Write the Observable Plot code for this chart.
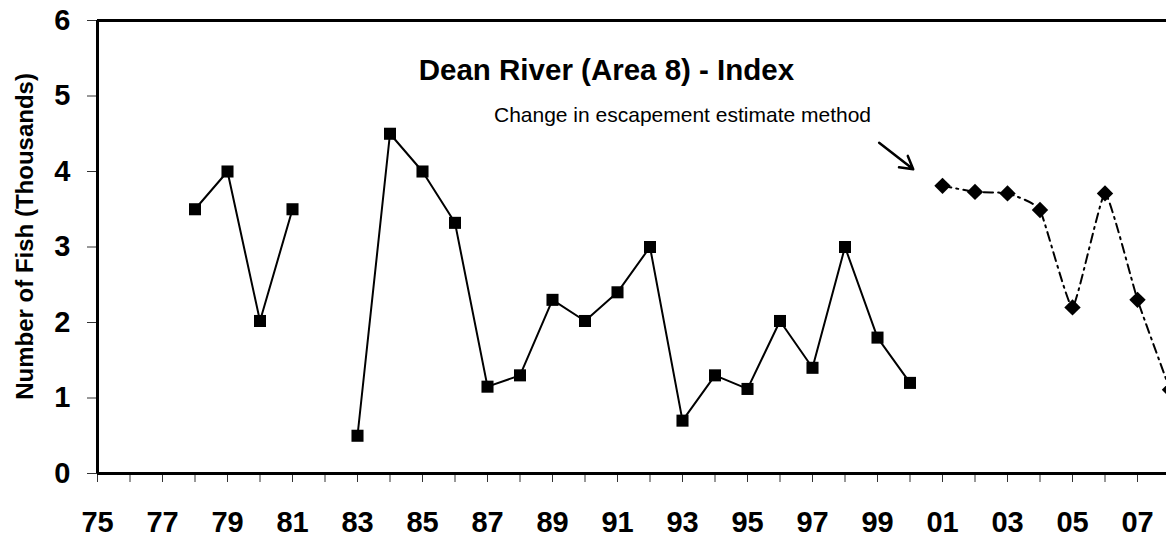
<!DOCTYPE html>
<html>
<head>
<meta charset="utf-8">
<script src="https://cdn.jsdelivr.net/npm/d3@7"></script>
<script src="https://cdn.jsdelivr.net/npm/@observablehq/plot@0.6"></script>
<style>
  html, body { margin: 0; padding: 0; background: #fff; }
  #chart svg { display: block; }
</style>
</head>
<body>
<div id="chart"></div>
<script>
// Index counts (thousands), solid line with squares (1982 missing)
const years1 = [1978, 1979, 1980, 1981, 1982, 1983, 1984, 1985, 1986, 1987, 1988, 1989, 1990, 1991, 1992, 1993, 1994, 1995, 1996, 1997, 1998, 1999, 2000];
const values1 = [3.5, 4.0, 2.02, 3.5, null, 0.5, 4.5, 4.0, 3.32, 1.15, 1.3, 2.3, 2.02, 2.4, 3.0, 0.7, 1.3, 1.12, 2.02, 1.4, 3.0, 1.8, 1.2];
// After change in escapement estimate method, dash-dot line with diamonds
const years2 = [2001, 2002, 2003, 2004, 2005, 2006, 2007, 2008];
const values2 = [3.81, 3.73, 3.71, 3.49, 2.2, 3.71, 2.3, 1.11];
const xTicks = d3.range(1975, 2009);
const yTicks = [0, 1, 2, 3, 4, 5, 6];
const titleText = "Dean River (Area 8) - Index";
const noteText = "Change in escapement estimate method";
const yLabel = "Number of Fish (Thousands)";

const s1 = years1.map((x, i) => ({x, y: values1[i]}));
const s2 = years2.map((x, i) => ({x, y: values2[i]}));

const font = "Arial, 'Liberation Sans', Helvetica, sans-serif";

const chart = Plot.plot({
  width: 1166,
  height: 537,
  marginLeft: 97,
  marginRight: -3.5,
  marginTop: 20,
  marginBottom: 64,
  style: {fontFamily: font, background: "#fff", overflow: "hidden"},
  x: {domain: [1975, 2008]},
  y: {domain: [0, 6]},
  marks: [
    Plot.axisY({
      ticks: yTicks, tickSize: 10, tickPadding: 17, stroke: "#333",
      tickFormat: d => String(d),
      fontSize: 29, fontWeight: "bold", fill: "#000",
      label: null
    }),
    Plot.axisX({
      ticks: xTicks, tickSize: 9, tickPadding: 29, stroke: "#333",
      tickFormat: d => (d % 2 === 1 ? String(d % 100).padStart(2, "0") : ""),
      fontSize: 29, fontWeight: "bold", fill: "#000",
      label: null
    }),
    Plot.text([yLabel], {
      x: 1975, y: 3.14, dx: -72, rotate: -90, textAnchor: "middle",
      fontSize: 24, fontWeight: "bold", fill: "#000"
    }),
    Plot.ruleY([0, 6], {stroke: "#000", strokeWidth: 3}),
    Plot.ruleX([1975], {stroke: "#000", strokeWidth: 3}),
    Plot.line(s1, {x: "x", y: "y", stroke: "#000", strokeWidth: 2}),
    Plot.dot(s1, {x: "x", y: "y", symbol: "square", r: 6.8, fill: "#000", stroke: "none"}),
    Plot.line(s2, {x: "x", y: "y", stroke: "#000", strokeWidth: 2, strokeDasharray: "9,5,2,5", curve: "cardinal", tension: 0.6}),
    Plot.dot(s2, {x: "x", y: "y", symbol: "diamond2", r: 7.4, fill: "#000", stroke: "none"}),
    Plot.text([titleText], {
      x: 1990.66, y: 5.34, fontSize: 29.5, fontWeight: "bold", fill: "#000"
    }),
    Plot.text([noteText], {
      x: 1993.0, y: 4.74, fontSize: 21, fill: "#000"
    }),
    Plot.arrow([0], {
      x1: 1999.05, y1: 4.38, x2: 2000.1, y2: 4.03,
      stroke: "#000", strokeWidth: 2.5, headLength: 11, bend: 0
    })
  ]
});
document.getElementById("chart").appendChild(chart);
</script>
</body>
</html>
